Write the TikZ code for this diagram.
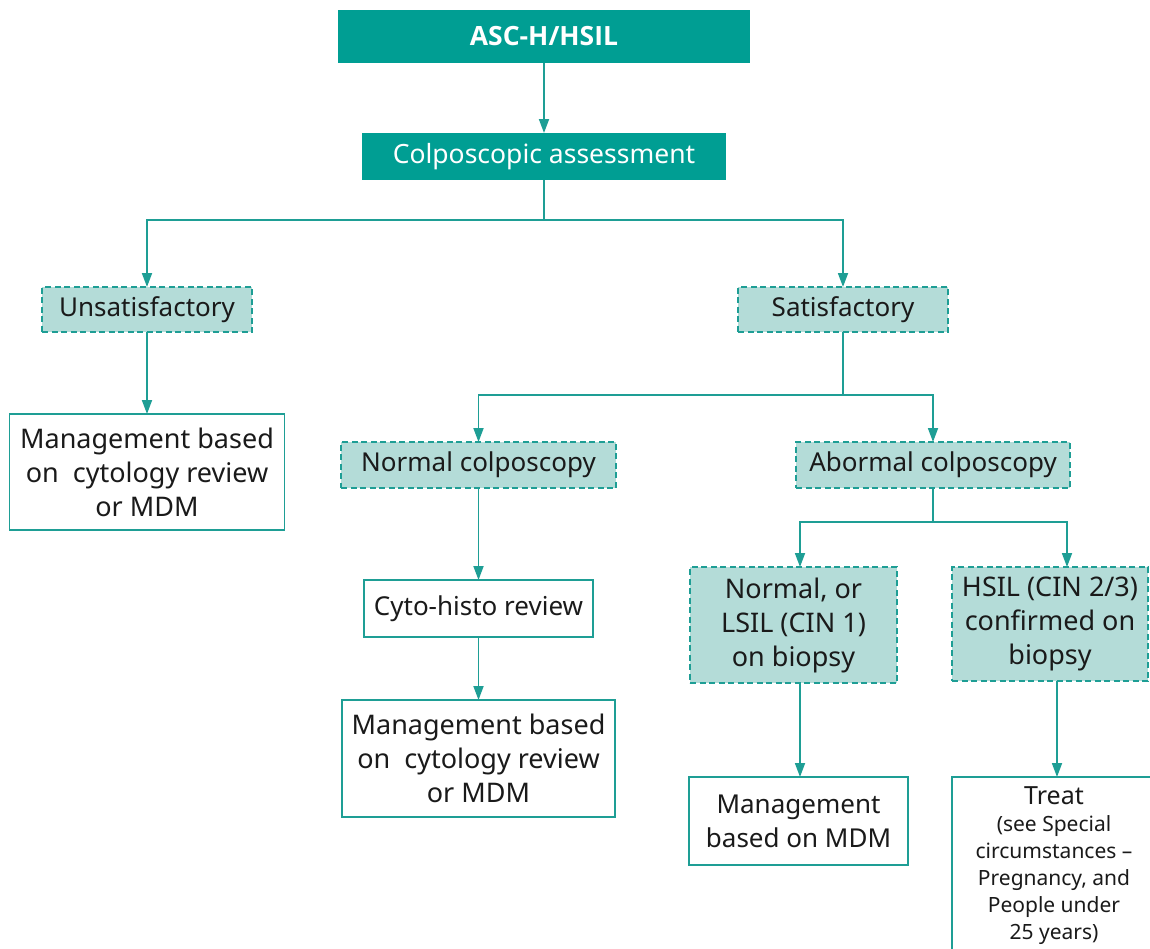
\documentclass[tikz,border=0pt]{standalone}
\usepackage{fontspec}
\setmainfont{Noto Sans}
\newfontfamily\headfont{Open Sans}
\usetikzlibrary{arrows.meta}
\definecolor{tealdark}{HTML}{009E93}
\definecolor{teallight}{HTML}{B4DCD8}
\definecolor{tealline}{HTML}{1E9E95}
\definecolor{inktext}{HTML}{1A1A1A}
\tikzset{
  x=1pt, y=-1pt,
  every node/.style={inner sep=0pt, outer sep=0pt, align=center, text=inktext,
    font=\fontsize{27}{34}\selectfont},
  headbox/.style={fill=tealdark, draw=none, text=white},
  choicebox/.style={fill=teallight, draw=tealline, dash pattern=on 6pt off 3.5pt, line width=1.2pt},
  outbox/.style={fill=white, draw=tealline, line width=1.5pt},
  oneline/.style={font=\fontsize{26}{32}\selectfont},
  link/.style={draw=tealline, line width=1.8pt},
  flow/.style={link, -{Triangle[width=10pt,length=14pt]}},
}
\begin{document}
\begin{tikzpicture}
\useasboundingbox (0,0) rectangle (1150,948);

% top of the chart
\node[headbox, minimum width=412pt, minimum height=53pt,
  font=\headfont\bfseries\fontsize{26.5}{32}\selectfont] (asc) at (544,36.5) {ASC-H/HSIL};
\node[headbox, minimum width=364pt, minimum height=47pt,
  font=\fontsize{26.5}{32}\selectfont] (colpo) at (544,156.5) {Colposcopic assessment};

% first split
\node[choicebox, oneline, minimum width=210pt, minimum height=45pt] (unsat) at (147,309.5) {Unsatisfactory};
\node[choicebox, oneline, minimum width=210pt, minimum height=45pt] (sat) at (843,309.5) {Satisfactory};

\node[outbox, minimum width=275pt, minimum height=116pt] (mgmtA) at (147,472) {Management based\\on\ \ cytology review\\or MDM};

% satisfactory branch
\node[choicebox, oneline, minimum width=275pt, minimum height=46pt] (normcol) at (478.5,465) {Normal colposcopy};
\node[choicebox, oneline, minimum width=274pt, minimum height=46pt] (abcol) at (933,465) {Abormal colposcopy};

\node[outbox, oneline, minimum width=229pt, minimum height=57pt] (cyto) at (478.5,608.5) {Cyto-histo review};
\node[outbox, minimum width=273pt, minimum height=117pt] (mgmtB) at (478.5,758.5) {Management based\\on\ \ cytology review\\or MDM};

\node[choicebox, minimum width=207pt, minimum height=116pt] (lsil) at (793.5,625) {Normal, or\\LSIL (CIN 1)\\on biopsy};
\node[choicebox, minimum width=196pt, minimum height=114pt] (hsil) at (1050,624) {HSIL (CIN 2/3)\\confirmed on\\biopsy};

\node[outbox, font=\fontsize{26}{34}\selectfont, minimum width=219pt, minimum height=88pt] (mdm) at (798.5,821) {Management\\based on MDM};
\node[outbox, anchor=north west, minimum width=210pt, minimum height=190pt] (treat) at (952,777) {};
\node[anchor=north, font=\fontsize{21}{27}\selectfont] (treattxt) at (1054,787)
  {{\fontsize{25}{30}\selectfont Treat}\\(see Special\\circumstances –\\Pregnancy, and\\People under\\25 years)};

% connectors
\draw[flow] (asc.south) -- (colpo.north);

\coordinate (s1) at (544,220);
\draw[link] (colpo.south) -- (s1);
\draw[flow] (s1) -| (unsat.north);
\draw[flow] (s1) -| (sat.north);

\draw[flow] (unsat.south) -- (mgmtA.north);

\coordinate (s2) at (843,395);
\draw[link] (sat.south) -- (s2);
\draw[flow] (s2) -| (normcol.north);
\draw[flow] (s2) -| (abcol.north);

\draw[flow] (normcol.south) -- (cyto.north);
\draw[flow] (cyto.south) -- (mgmtB.north);

\coordinate (s3) at (933,522);
\draw[link] (abcol.south) -- (s3);
\draw[flow] (s3) -| ([xshift=6.5pt]lsil.north);
\draw[flow] (s3) -| ([xshift=17pt]hsil.north);

\draw[flow] ([xshift=6.5pt]lsil.south) -- ([xshift=6.5pt]lsil.south |- mdm.north);
\draw[flow] ([xshift=7pt]hsil.south) -- ([xshift=7pt]hsil.south |- treat.north);
\end{tikzpicture}
\end{document}
